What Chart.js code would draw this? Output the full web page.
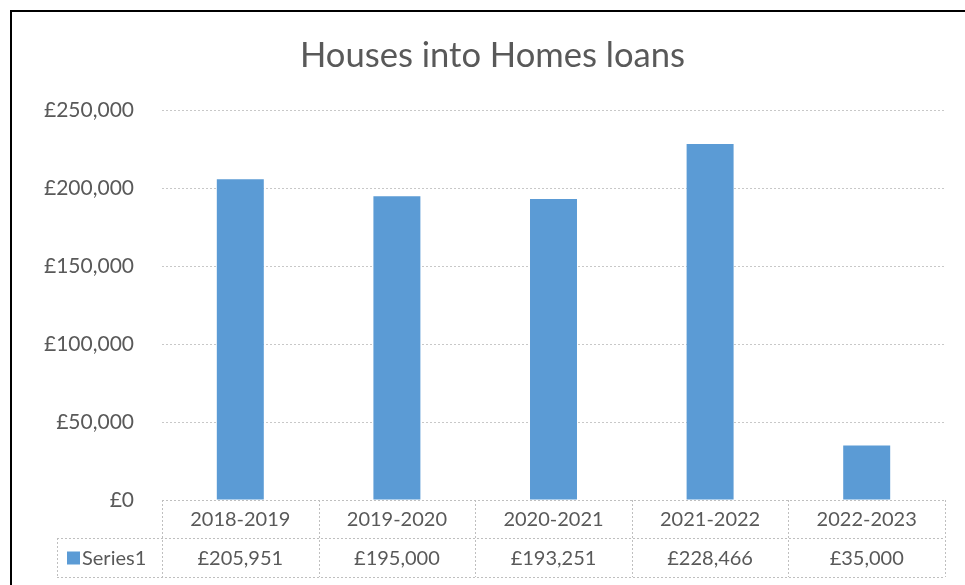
<!DOCTYPE html>
<html>
<head>
<meta charset="utf-8">
<script src="https://cdn.jsdelivr.net/npm/chart.js@4"></script>
<style>
    html, body { margin: 0; padding: 0; background: #fff; overflow: hidden; }
    #wrap { position: relative; width: 965px; height: 585px; }
    #frame { position: absolute; left: 10px; top: 10px; width: 2000px; height: 2000px;
        border-top: 2px solid #000; border-left: 2px solid #000; }
    canvas { position: absolute; left: 0; top: 0; }
</style>
</head>
<body>
<div id="wrap">
    <div id="frame"></div>
    <canvas id="myChart" width="965" height="585"></canvas>
</div>
<script>
const categories = ["2018-2019", "2019-2020", "2020-2021", "2021-2022", "2022-2023"];
const seriesName = "Series1";
const values = [205951, 195000, 193251, 228466, 35000];
const yTicks = [0, 50000, 100000, 150000, 200000, 250000];

const textColor = "#595959";
const barColor = "#5B9BD5";
const fontFamily = "Lato, 'Open Sans', sans-serif";

function money(v) {
    return "£" + v.toLocaleString("en-GB");
}

// draws the data table under the plot area
const dataTable = {
    id: "dataTable",
    afterDraw(chart) {
        let ctx = chart.ctx;
        let x = chart.scales.x;
        let area = chart.chartArea;
        let top = area.bottom;
        let mid = top + 38;
        let bottom = top + 77;
        let legendLeft = 57;
        let colW = (area.right - area.left) / categories.length;

        ctx.save();
        ctx.strokeStyle = "#BFBFBF";
        ctx.lineWidth = 1;
        ctx.setLineDash([2, 2]);
        ctx.beginPath();
        ctx.moveTo(area.left, top + 0.5); ctx.lineTo(area.right, top + 0.5);
        ctx.moveTo(legendLeft, mid + 0.5); ctx.lineTo(area.right, mid + 0.5);
        ctx.moveTo(legendLeft, bottom + 0.5); ctx.lineTo(area.right, bottom + 0.5);
        ctx.moveTo(legendLeft + 0.5, mid); ctx.lineTo(legendLeft + 0.5, bottom);
        for (let i = 0; i <= categories.length; i++) {
            let cx = Math.round(area.left + i * colW) + 0.5;
            ctx.moveTo(cx, top); ctx.lineTo(cx, bottom);
        }
        ctx.stroke();
        ctx.setLineDash([]);

        ctx.fillStyle = textColor;
        ctx.font = "20px " + fontFamily;
        ctx.textAlign = "center";
        ctx.textBaseline = "middle";
        for (let i = 0; i < categories.length; i++) {
            let cx = x.getPixelForValue(i);
            ctx.fillText(categories[i], cx, (top + mid) / 2 + 1);
            ctx.fillText(money(values[i]), cx, (mid + bottom) / 2 + 1);
        }

        ctx.fillStyle = barColor;
        ctx.fillRect(67, (mid + bottom) / 2 - 6, 13, 13);
        ctx.fillStyle = textColor;
        ctx.textAlign = "left";
        ctx.fillText(seriesName, 82, (mid + bottom) / 2 + 1);
        ctx.restore();
    }
};

var ctx = document.getElementById('myChart').getContext('2d');
var myChart = new Chart(ctx, {
    type: 'bar',
    data: {
        labels: categories,
        datasets: [{
            label: seriesName,
            data: values,
            backgroundColor: barColor,
            barPercentage: 1,
            categoryPercentage: 0.3
        }]
    },
    options: {
        responsive: false,
        animation: false,
        layout: { padding: { left: 40, right: 20, top: 35, bottom: 85 } },
        plugins: {
            legend: { display: false },
            tooltip: { enabled: false },
            title: {
                display: true,
                text: "Houses into Homes loans",
                color: textColor,
                font: { family: fontFamily, size: 34.6, weight: 'normal' },
                padding: { top: 0, bottom: 34 }
            }
        },
        scales: {
            x: { display: false },
            y: {
                min: 0,
                max: yTicks[yTicks.length - 1],
                afterBuildTicks: (axis) => { axis.ticks = yTicks.map(v => ({ value: v })); },
                afterFit: (axis) => { axis.width = 122; },
                border: { display: false, dash: [2, 2] },
                grid: {
                    color: (c) => c.tick.value === 0 ? "rgba(0,0,0,0)" : "#C8C8C8",
                    drawTicks: false
                },
                ticks: {
                    padding: 28,
                    color: textColor,
                    font: { family: fontFamily, size: 21 },
                    callback: (v) => money(v)
                }
            }
        }
    },
    plugins: [dataTable]
});
</script>
</body>
</html>
